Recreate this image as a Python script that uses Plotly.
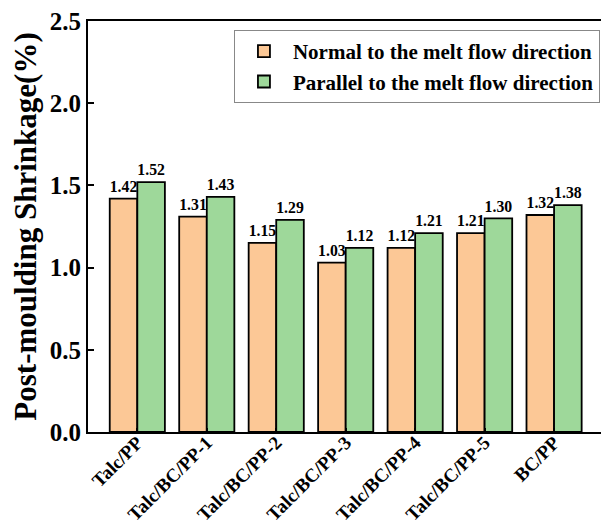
import plotly.graph_objects as go

categories = ["Talc/PP", "Talc/BC/PP-1", "Talc/BC/PP-2", "Talc/BC/PP-3",
              "Talc/BC/PP-4", "Talc/BC/PP-5", "BC/PP"]
normal = [1.42, 1.31, 1.15, 1.03, 1.12, 1.21, 1.32]
parallel = [1.52, 1.43, 1.29, 1.12, 1.21, 1.30, 1.38]
series_names = ["Normal to the melt flow direction", "Parallel to the melt flow direction"]
y_ticks = [0.0, 0.5, 1.0, 1.5, 2.0, 2.5]

FONT = "Liberation Serif"

fig = go.Figure()
fig.add_trace(go.Bar(
    x=categories, y=normal, name=f"<b>{series_names[0]}</b>",
    marker=dict(color="#FCC896", line=dict(color="black", width=1.8)),
    texttemplate="<b>%{y:.2f}</b>", textposition="outside",
    textfont=dict(family=FONT, size=17, color="black"), cliponaxis=False,
))
fig.add_trace(go.Bar(
    x=categories, y=parallel, name=f"<b>{series_names[1]}</b>",
    marker=dict(color="#9ED89A", line=dict(color="black", width=1.8)),
    texttemplate="<b>%{y:.2f}</b>", textposition="outside",
    textfont=dict(family=FONT, size=17, color="black"), cliponaxis=False,
))

# page body has an 8px margin, so the figure is shifted by 8px
fig.update_layout(
    width=601, height=519,
    margin=dict(l=80, r=7, t=13, b=95, autoexpand=False),
    paper_bgcolor="white", plot_bgcolor="white",
    barmode="group", bargap=0.206, bargroupgap=0,
    font=dict(family=FONT, color="black"),
    uniformtext=dict(minsize=8, mode="show"),
    showlegend=True,
    legend=dict(
        x=0.996, y=0.978, xanchor="right", yanchor="top",
        bgcolor="white", bordercolor="#888888", borderwidth=1,
        font=dict(family=FONT, size=21, color="black"),
        tracegroupgap=0, itemwidth=48,
    ),
)
fig.update_xaxes(
    range=[-0.71, 6.69], automargin=False,
    tickvals=categories, ticktext=[f"<b>{c}</b>" for c in categories],
    showline=True, linecolor="black", linewidth=2, mirror=True,
    ticks="inside", ticklen=4, tickwidth=1.5, tickcolor="black",
    tickangle=-45, ticklabelstandoff=-10, ticklabeloverflow="allow",
    tickfont=dict(family=FONT, size=19, color="black"),
    showgrid=False,
)
fig.update_yaxes(
    range=[0, 2.5], automargin=False,
    tickvals=y_ticks, ticktext=[f"<b>{v:.1f}</b>" for v in y_ticks],
    showline=True, linecolor="black", linewidth=2, mirror=True,
    ticks="inside", ticklen=6, tickwidth=2, tickcolor="black",
    ticklabeloverflow="allow",
    tickfont=dict(family=FONT, size=25, color="black"),
    showgrid=False, zeroline=False,
    title=dict(text="<b>Post-moulding Shrinkage(%)</b>",
               font=dict(family=FONT, size=31, color="black"), standoff=8),
)

fig.write_html("out.html")
